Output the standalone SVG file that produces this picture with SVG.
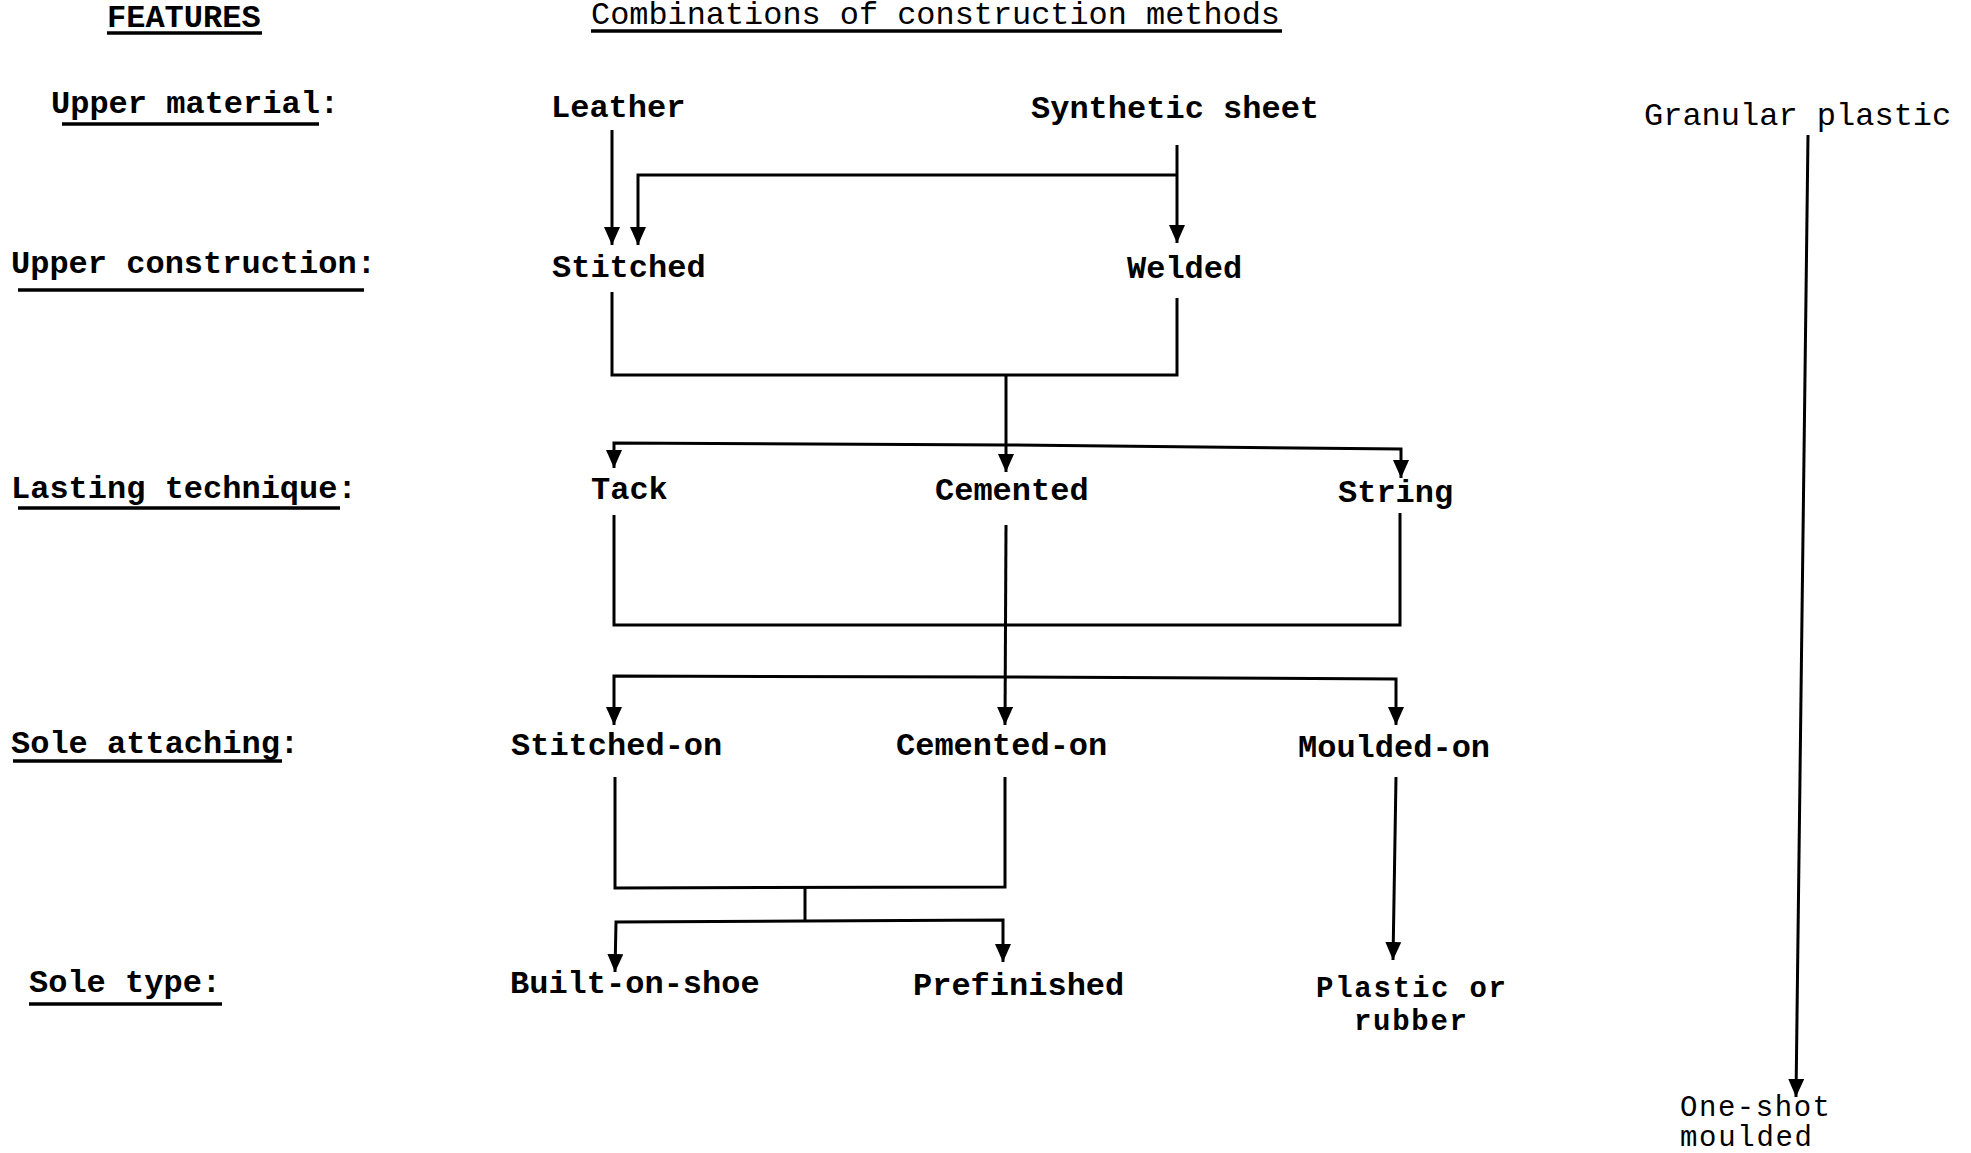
<svg xmlns="http://www.w3.org/2000/svg" width="1971" height="1153" viewBox="0 0 1971 1153">
<defs>
<style>
text{font-family:"Liberation Mono","DejaVu Sans Mono",monospace;font-size:32px;fill:#000}
.lbl{font-weight:bold}
.node{font-weight:bold}
.light{font-weight:normal}
.two{font-size:29px}
.ul{stroke:#000;stroke-width:3.5;fill:none}
.c{stroke:#000;stroke-width:3;fill:none;stroke-linejoin:miter}
.a{marker-end:url(#ah)}
</style>
<marker id="ah" viewBox="0 0 18 16" refX="18" refY="8" markerWidth="18" markerHeight="16" markerUnits="userSpaceOnUse" orient="auto">
<path d="M0,0 L18,8 L0,16 z" fill="#000"/>
</marker>
</defs>
<rect width="1971" height="1153" fill="#fff"/>
<g id="headings">
<text class="lbl" x="107" y="27">FEATURES</text>
<line class="ul" x1="107" y1="33" x2="262" y2="33"/>
<text x="591" y="24" textLength="689" lengthAdjust="spacingAndGlyphs">Combinations of construction methods</text>
<line class="ul" x1="591" y1="31" x2="1282" y2="31"/>
</g>
<g id="features">
<text class="lbl" x="51" y="113">Upper material:</text>
<line class="ul" x1="62" y1="124" x2="319" y2="124"/>
<text class="lbl" x="11" y="273">Upper construction:</text>
<line class="ul" x1="18" y1="290" x2="364" y2="290"/>
<text class="lbl" x="11" y="498">Lasting technique:</text>
<line class="ul" x1="18" y1="508" x2="340" y2="508"/>
<text class="lbl" x="11" y="753">Sole attaching:</text>
<line class="ul" x1="13" y1="761" x2="282" y2="761"/>
<text class="lbl" x="29" y="992">Sole type:</text>
<line class="ul" x1="29" y1="1004" x2="222" y2="1004"/>
</g>
<g id="n-leather"><text class="node" x="551" y="117">Leather</text></g>
<g id="n-synthetic"><text class="node" x="1031" y="118">Synthetic sheet</text></g>
<g id="n-granular"><text class="light" x="1644" y="125">Granular plastic</text></g>
<g id="n-stitched"><text class="node" x="552" y="277">Stitched</text></g>
<g id="n-welded"><text class="node" x="1127" y="278">Welded</text></g>
<g id="n-tack"><text class="node" x="591" y="499">Tack</text></g>
<g id="n-cemented"><text class="node" x="935" y="500">Cemented</text></g>
<g id="n-string"><text class="node" x="1338" y="502">String</text></g>
<g id="n-stitchedon"><text class="node" x="511" y="755">Stitched-on</text></g>
<g id="n-cementedon"><text class="node" x="896" y="755">Cemented-on</text></g>
<g id="n-mouldedon"><text class="node" x="1298" y="757">Moulded-on</text></g>
<g id="n-builtonshoe"><text class="node" x="510" y="993">Built-on-shoe</text></g>
<g id="n-prefinished"><text class="node" x="913" y="995">Prefinished</text></g>
<g id="n-plastic"><text class="node two" x="1316" y="997" textLength="190">Plastic or</text><text class="node two" x="1354" y="1030" textLength="113">rubber</text></g>
<g id="n-oneshot"><text class="light two" x="1680" y="1116" textLength="150">One-shot</text><text class="light two" x="1680" y="1146" textLength="132">moulded</text></g>
<g id="connectors">
<path class="c a" d="M612,130 L612,245"/>
<path class="c a" d="M1177,175 L638,175 L638,245"/>
<path class="c a" d="M1177,145 L1177,243"/>
<path class="c" d="M612,292 L612,375 L1177,375 L1177,298"/>
<path class="c a" d="M1006,375 L1006,472"/>
<path class="c a" d="M1006,445 L614,443 L614,468"/>
<path class="c a" d="M1006,445 L1401,449 L1401,478"/>
<path class="c" d="M614,515 L614,625 L1400,625 L1400,513"/>
<path class="c a" d="M1006,525 L1005,725"/>
<path class="c a" d="M1005,677 L614,676 L614,725"/>
<path class="c a" d="M1005,677 L1396,679 L1396,725"/>
<path class="c" d="M615,777 L615,888 L1005,887 L1005,777"/>
<path class="c" d="M805,888 L805,921"/>
<path class="c a" d="M805,921 L616,922 L615,972"/>
<path class="c a" d="M805,921 L1003,920 L1003,962"/>
<path class="c a" d="M1396,777 L1393,960"/>
<path class="c a" d="M1808,135 L1796,1097"/>
</g>
</svg>
